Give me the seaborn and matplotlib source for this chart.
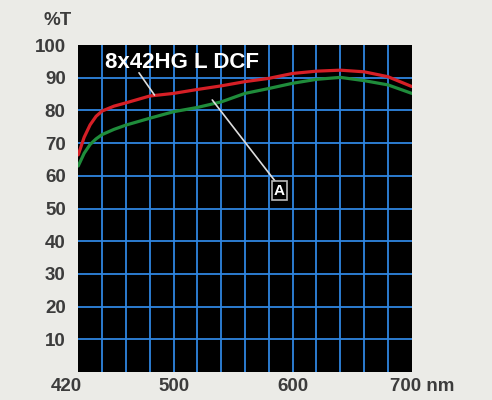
import pandas as pd
import matplotlib.pyplot as plt
import matplotlib.transforms as mtransforms
import seaborn as sns

# === Data ===
wavelength = [420, 425, 430, 435, 440, 450, 460, 480, 500, 520, 540, 560, 580, 600, 620, 640, 660, 680, 700]
trans_dcf = [66.4, 71.8, 75.6, 78.2, 79.8, 81.3, 82.3, 84.4, 85.2, 86.4, 87.5, 88.8, 89.8, 91.3, 92.0, 92.3, 91.8, 90.3, 87.3]
trans_a = [63.0, 66.9, 69.6, 71.3, 72.6, 74.2, 75.5, 77.6, 79.6, 80.9, 82.6, 85.2, 86.7, 88.3, 89.5, 90.1, 89.1, 87.8, 85.2]
xtick_vals = [420, 500, 600, 700]
xtick_labels = ['420', '500', '600', '700 nm']
ytick_vals = [10, 20, 30, 40, 50, 60, 70, 80, 90, 100]

df = pd.DataFrame({
    'nm': wavelength * 2,
    'T': trans_dcf + trans_a,
    'series': ['8x42HG L DCF'] * len(wavelength) + ['A'] * len(wavelength),
})

# === Style ===
sns.set_style('white')
plt.rcParams['font.family'] = ['Liberation Sans', 'DejaVu Sans']
bg = '#ebebe7'
txt = '#3c3c3c'

fig = plt.figure(figsize=(4.92, 4.00), dpi=100, facecolor=bg)
ax = fig.add_axes([0.159, 0.07, 0.678, 0.8175])
ax.set_facecolor('black')

# grid
for x in range(440, 700, 20):
    ax.axvline(x, color='#2f86e0', lw=1.3, zorder=1)
for y in range(10, 100, 10):
    ax.axhline(y, color='#2f86e0', lw=1.3, zorder=1)

sns.lineplot(data=df, x='nm', y='T', hue='series',
             palette={'8x42HG L DCF': '#d61f26', 'A': '#1f8c3b'},
             linewidth=2.3, legend=False, ax=ax, zorder=3)

ax.set_xlim(420, 700)
ax.set_ylim(0, 100)
ax.set_xlabel('')
ax.set_ylabel('')
for s in ax.spines.values():
    s.set_visible(False)

ax.set_yticks(ytick_vals)
ax.set_yticklabels([str(v) for v in ytick_vals], fontsize=13.5, fontweight='bold', color=txt)
ax.set_xticks(xtick_vals)
ax.set_xticklabels(xtick_labels, fontsize=13.5, fontweight='bold', color=txt)
ax.tick_params(axis='both', length=0)
ax.tick_params(axis='y', pad=9)
ax.tick_params(axis='x', pad=4)

# shift the end labels like the original
xl = ax.get_xticklabels()
xl[0].set_transform(xl[0].get_transform() + mtransforms.ScaledTranslation(-12 / 100, 0, fig.dpi_scale_trans))
xl[-1].set_ha('left')
xl[-1].set_transform(xl[-1].get_transform() + mtransforms.ScaledTranslation(-22 / 100, 0, fig.dpi_scale_trans))

fig.text(0.146, 0.948, '%T', fontsize=13.5, fontweight='bold', color=txt, ha='right', va='center')

# === Annotations ===
ax.text(442.5, 94.5, '8x42HG L DCF', color='white', fontsize=16, fontweight='bold', va='center', zorder=5)
ax.plot([471, 484], [91.5, 84.7], color='#dddddd', lw=1.2, zorder=4)
ax.plot([532.5, 585], [83.2, 58.5], color='#dddddd', lw=1.2, zorder=4)
ax.text(589, 55.5, 'A', color='white', fontsize=11, fontweight='bold', ha='center', va='center', zorder=5,
        bbox=dict(boxstyle='square,pad=0.15', fc='black', ec='#bbbbbb', lw=1.2))

plt.savefig('out.png', dpi=100, facecolor=bg)
